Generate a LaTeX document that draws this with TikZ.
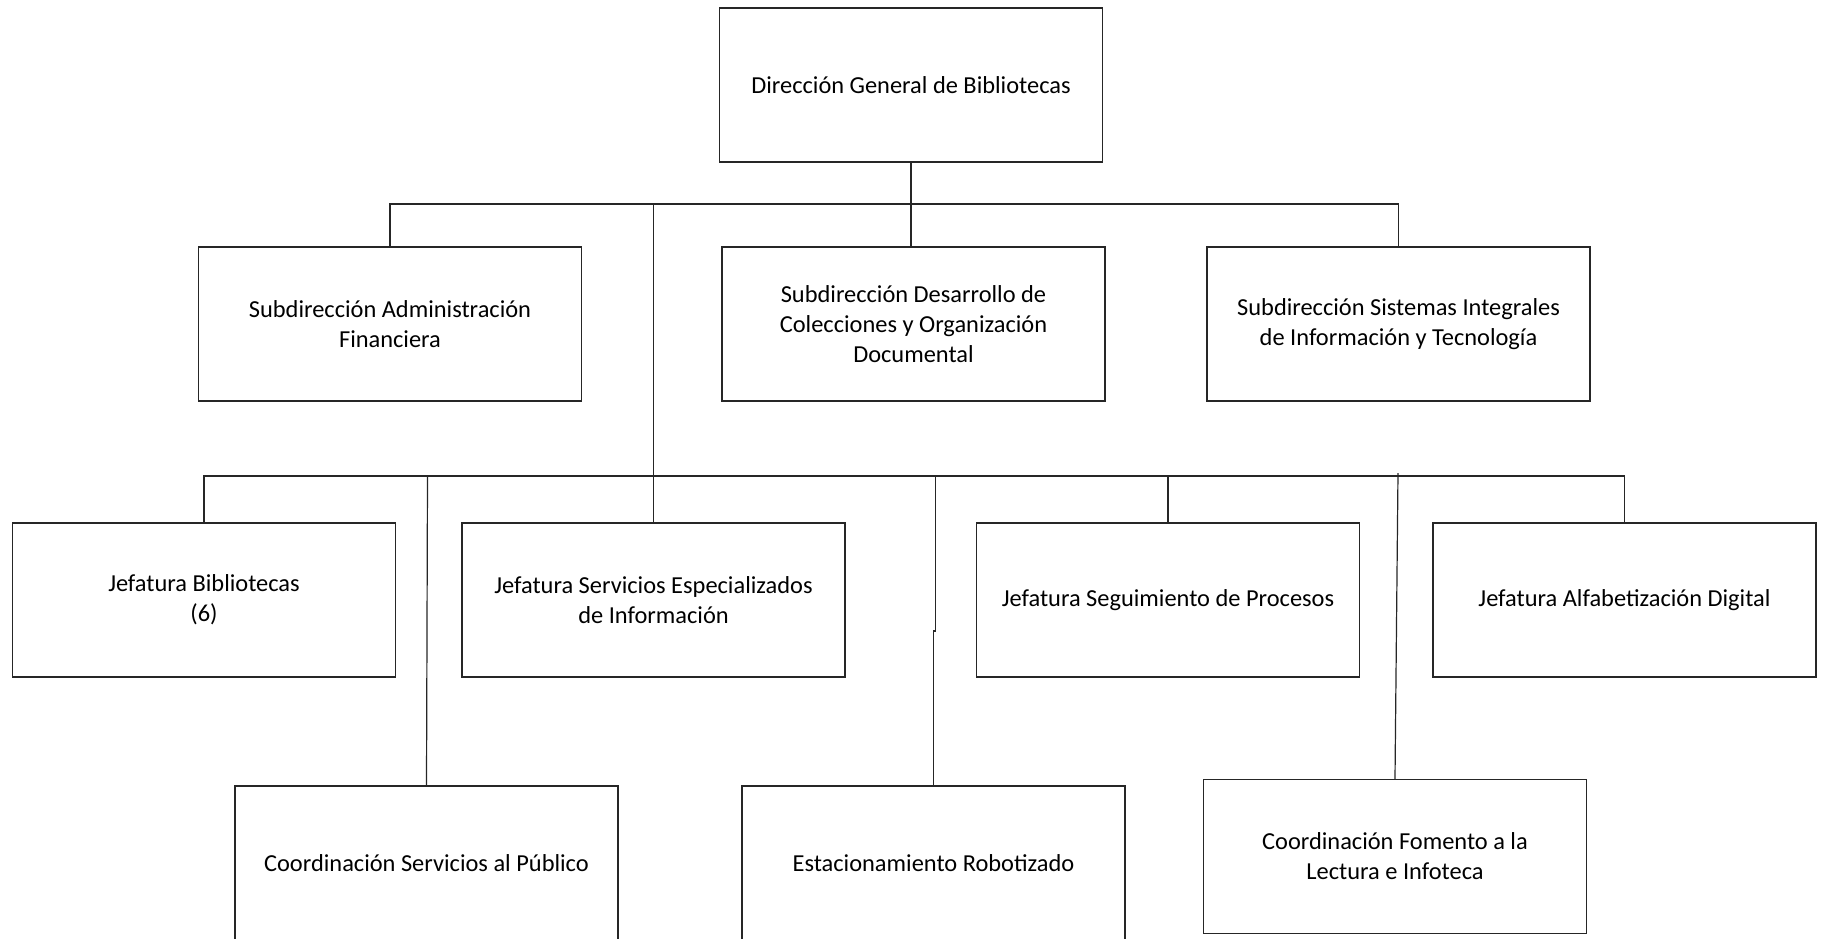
\documentclass[tikz,border=0pt]{standalone}
\usepackage{fontspec}
\setmainfont{Carlito}
\begin{document}
\begin{tikzpicture}[x=0.5pt,y=-0.5pt,
  unit/.style={draw=black!85, line width=0.75pt, inner sep=0pt,
    minimum width=191.5pt, minimum height=77pt, align=center,
    font=\fontsize{12.2pt}{15pt}\selectfont, text=black},
  link/.style={draw=black!85, line width=0.6pt}]
\clip (0,0) rectangle (1822,938);

% top level
\node[unit] (dg) at (911,85) {Dirección General de Bibliotecas};

% sub-directorates
\node[unit] (saf) at (390,324) {Subdirección Administración\\Financiera};
\node[unit] (sdc) at (913.5,324) {Subdirección Desarrollo de\\Colecciones y Organización\\Documental};
\node[unit] (ssi) at (1398.5,324) {Subdirección Sistemas Integrales\\de Información y Tecnología};

% heads of department
\node[unit] (jb)  at (204,600) {Jefatura Bibliotecas\\(6)};
\node[unit] (jse) at (653.5,600) {Jefatura Servicios Especializados\\de Información};
\node[unit] (jsp) at (1168,600) {Jefatura Seguimiento de Procesos};
\node[unit] (jad) at (1624.5,600) {Jefatura Alfabetización Digital};

% coordinations
\node[unit] (csp) at (426.5,863) {Coordinación Servicios al Público};
\node[unit] (er)  at (933.5,863) {Estacionamiento Robotizado};
\node[unit] (cfl) at (1395,856.5) {Coordinación Fomento a la\\Lectura e Infoteca};

% first bus
\coordinate (busAr) at (1398.5,204);
\draw[link] (dg.south) -- (dg.south |- sdc.north);
\draw[link] (saf.north) |- (busAr) -- (ssi.north);

% second bus
\coordinate (busBtop) at (653.5,203);
\coordinate (busBr) at (1624.5,476);
\draw[link] (busBtop) -- (jse.north);
\draw[link] (jb.north) |- (busBr) -- (jad.north);
\draw[link] (jsp.north) -- (jsp.north |- busBr);

% long drops to the coordinations
\coordinate (dropL) at (427.5,476);
\coordinate (dropM) at (935.3,476);
\coordinate (jogM) at (935.3,631);
\coordinate (dropR) at (1398,473);
\draw[link] (dropL) -- (csp.north);
\draw[link] (dropM) -- (jogM) -- (er.north |- jogM) -- (er.north);
\draw[link] (dropR) -- (cfl.north);
\end{tikzpicture}
\end{document}
